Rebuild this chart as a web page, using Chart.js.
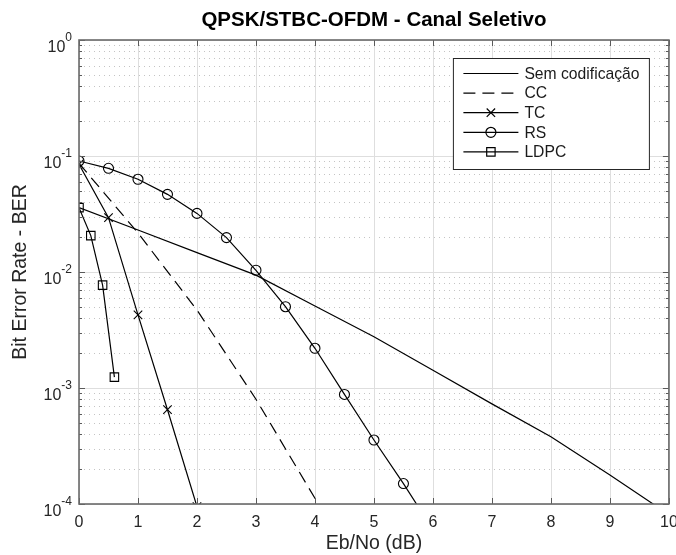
<!DOCTYPE html>
<html>
<head>
<meta charset="utf-8">
<script src="https://cdn.jsdelivr.net/npm/chart.js@4.4.0/dist/chart.umd.min.js"></script>
<style>
  html, body { margin: 0; padding: 0; background: #fff; }
</style>
</head>
<body>
<canvas id="berChart" width="676" height="555"></canvas>
<script>
// BER curves, QPSK/STBC-OFDM, selective channel
const ebnoSem = [0, 1, 2, 3, 4, 5, 6, 7, 8, 9, 10];
const berSem = [0.0359, 0.0230, 0.0147, 0.0094, 0.0051, 0.00277, 0.00142, 0.00073, 0.00038, 0.000178, 0.000081];

const ebnoCC = [0, 1, 2, 3, 4, 5];
const berCC = [0.0865, 0.0217, 0.0047, 0.00080, 0.000112, 0.000015];

const ebnoTC = [0, 0.5, 1, 1.5, 2];
const berTC = [0.085, 0.0294, 0.00427, 0.00065, 0.000095];

const ebnoRS = [0, 0.5, 1, 1.5, 2, 2.5, 3, 3.5, 4, 4.5, 5, 5.5, 6];
const berRS = [0.0906, 0.0783, 0.063, 0.0467, 0.032, 0.0198, 0.01035, 0.00502, 0.0022, 0.00088, 0.000356, 0.00015, 0.00006];

const ebnoLDPC = [0, 0.2, 0.4, 0.6];
const berLDPC = [0.0359, 0.0206, 0.0077, 0.00124];

const seriesNames = ['Sem codificação', 'CC', 'TC', 'RS', 'LDPC'];
const yDecades = [1, 0.1, 0.01, 0.001, 0.0001];
const yExponents = ['0', '-1', '-2', '-3', '-4'];
const chartTitle = 'QPSK/STBC-OFDM - Canal Seletivo';

const FONT = '"Liberation Sans", Arial, Helvetica, sans-serif';
const AXIS_COLOR = '#262626';

function toPoints(xs, ys) {
  return xs.map((x, i) => ({ x: x, y: ys[i] }));
}

function series(label, xs, ys, extra) {
  return Object.assign({
    label: label,
    data: toPoints(xs, ys),
    showLine: true,
    borderColor: '#000',
    borderWidth: 1.2,
    pointRadius: 0,
    pointHoverRadius: 0,
    pointBorderColor: '#000',
    pointBorderWidth: 1.1,
    pointBackgroundColor: 'rgba(0,0,0,0)',
    tension: 0,
  }, extra);
}

const datasets = [
  series(seriesNames[0], ebnoSem, berSem, {}),
  series(seriesNames[1], ebnoCC, berCC, { borderDash: [12, 7] }),
  series(seriesNames[2], ebnoTC, berTC, { pointStyle: 'crossRot', pointRadius: 6 }),
  series(seriesNames[3], ebnoRS, berRS, { pointStyle: 'circle', pointRadius: 5 }),
  series(seriesNames[4], ebnoLDPC, berLDPC, { pointStyle: 'rect', pointRadius: 6 }),
];

function hline(ctx, x0, x1, y) {
  ctx.beginPath(); ctx.moveTo(x0, y); ctx.lineTo(x1, y); ctx.stroke();
}
function vline(ctx, x, y0, y1) {
  ctx.beginPath(); ctx.moveTo(x, y0); ctx.lineTo(x, y1); ctx.stroke();
}

function drawMarker(ctx, style, cx, cy) {
  ctx.beginPath();
  if (style === 'circle') {
    ctx.arc(cx, cy, 5, 0, Math.PI * 2);
  } else if (style === 'rect') {
    ctx.rect(cx - 4.2, cy - 4.2, 8.4, 8.4);
  } else if (style === 'crossRot') {
    ctx.moveTo(cx - 4.2, cy - 4.2); ctx.lineTo(cx + 4.2, cy + 4.2);
    ctx.moveTo(cx - 4.2, cy + 4.2); ctx.lineTo(cx + 4.2, cy - 4.2);
  }
  ctx.stroke();
}

// MATLAB-like grid, box, ticks, exponent labels, title and legend
const matlabAxes = {
  id: 'matlabAxes',
  beforeDatasetsDraw(chart) {
    const { ctx, chartArea: a, scales: { x, y } } = chart;
    ctx.save();
    ctx.lineWidth = 1;
    // minor y grid, dotted
    ctx.strokeStyle = '#c4c4c4';
    ctx.setLineDash([1, 4]);
    for (let k = 1; k < yDecades.length; k++) {
      for (let m = 2; m <= 9; m++) {
        const py = Math.round(y.getPixelForValue(m * yDecades[k])) + 0.5;
        hline(ctx, a.left, a.right, py);
      }
    }
    // major grid
    ctx.setLineDash([]);
    ctx.strokeStyle = '#dedede';
    x.ticks.forEach(t => {
      const px = Math.round(x.getPixelForValue(t.value)) + 0.5;
      vline(ctx, px, a.top, a.bottom);
    });
    yDecades.forEach(v => {
      const py = Math.round(y.getPixelForValue(v)) + 0.5;
      hline(ctx, a.left, a.right, py);
    });
    ctx.restore();
  },
  afterDatasetsDraw(chart) {
    const { ctx, chartArea: a, scales: { x, y } } = chart;
    ctx.save();
    ctx.strokeStyle = '#5a5a5a';
    ctx.lineWidth = 1;
    // ticks, pointing inward
    x.ticks.forEach(t => {
      const px = Math.round(x.getPixelForValue(t.value)) + 0.5;
      vline(ctx, px, a.bottom, a.bottom - 6);
      vline(ctx, px, a.top, a.top + 6);
    });
    for (let k = 0; k < yDecades.length; k++) {
      const py = Math.round(y.getPixelForValue(yDecades[k])) + 0.5;
      hline(ctx, a.left, a.left + 6, py);
      hline(ctx, a.right, a.right - 6, py);
      if (k === 0) continue;
      for (let m = 2; m <= 9; m++) {
        const pm = Math.round(y.getPixelForValue(m * yDecades[k])) + 0.5;
        hline(ctx, a.left, a.left + 3, pm);
        hline(ctx, a.right, a.right - 3, pm);
      }
    }
    // box
    ctx.strokeStyle = '#6a6a6a';
    ctx.lineWidth = 1.6;
    ctx.strokeRect(a.left, a.top, a.right - a.left, a.bottom - a.top);

    // y tick labels 10^k
    ctx.fillStyle = AXIS_COLOR;
    yDecades.forEach((v, i) => {
      const py = y.getPixelForValue(v);
      const right = a.left - 7;
      ctx.font = '12px ' + FONT;
      ctx.textAlign = 'right';
      ctx.textBaseline = 'alphabetic';
      const ew = ctx.measureText(yExponents[i]).width;
      ctx.fillText(yExponents[i], right, py + 1);
      ctx.font = '16px ' + FONT;
      ctx.fillText('10', right - ew, py + 11.5);
    });

    // title, centred over the axes
    ctx.font = 'bold 20.5px ' + FONT;
    ctx.fillStyle = '#000';
    ctx.textAlign = 'center';
    ctx.textBaseline = 'middle';
    ctx.fillText(chartTitle, (a.left + a.right) / 2, a.top - 20);
    ctx.restore();
  },
  afterDraw(chart) {
    const { ctx, chartArea: a } = chart;
    const w = 196, h = 111;
    const bx = a.right - 20 - w + 0.5;
    const by = a.top + 18 + 0.5;
    ctx.save();
    ctx.fillStyle = '#fff';
    ctx.fillRect(bx, by, w, h);
    ctx.strokeStyle = '#262626';
    ctx.lineWidth = 1;
    ctx.strokeRect(bx, by, w, h);
    ctx.font = '15.7px ' + FONT;
    ctx.textBaseline = 'middle';
    ctx.textAlign = 'left';
    chart.data.datasets.forEach((ds, i) => {
      const ry = by + 15 + i * 19.6;
      const x0 = bx + 10, x1 = bx + 65;
      ctx.strokeStyle = '#000';
      ctx.lineWidth = 1.2;
      ctx.setLineDash(ds.borderDash || []);
      hline(ctx, x0, x1, ry);
      ctx.setLineDash([]);
      if (ds.pointRadius > 0) drawMarker(ctx, ds.pointStyle, (x0 + x1) / 2, ry);
      ctx.fillStyle = '#1a1a1a';
      ctx.fillText(ds.label, x1 + 6, ry + 1);
    });
    ctx.restore();
  }
};

new Chart(document.getElementById('berChart'), {
  type: 'scatter',
  data: { datasets: datasets },
  plugins: [matlabAxes],
  options: {
    responsive: false,
    animation: false,
    layout: { padding: { top: 40, right: 7, bottom: 0, left: 0 } },
    plugins: {
      legend: { display: false },
      tooltip: { enabled: false },
      title: { display: false },
    },
    scales: {
      x: {
        type: 'linear',
        min: 0,
        max: 10,
        ticks: { stepSize: 1, color: AXIS_COLOR, padding: 1, maxRotation: 0, font: { family: FONT, size: 16 } },
        grid: { display: false },
        border: { display: false },
        title: {
          display: true,
          text: 'Eb/No (dB)',
          color: AXIS_COLOR,
          font: { family: FONT, size: 19.5 },
          padding: { top: 0, bottom: 0 },
        },
        afterFit(scale) { scale.height = 51; scale.paddingLeft = 0; scale.paddingRight = 0; },
      },
      y: {
        type: 'logarithmic',
        min: 0.0001,
        max: 1,
        ticks: { display: false },
        grid: { display: false },
        border: { display: false },
        title: {
          display: true,
          text: 'Bit Error Rate - BER',
          color: AXIS_COLOR,
          font: { family: FONT, size: 19.5 },
          padding: { top: 9, bottom: 0 },
        },
        afterFit(scale) { scale.width = 79; scale.paddingTop = 0; scale.paddingBottom = 0; },
      },
    },
  },
});
</script>
</body>
</html>
